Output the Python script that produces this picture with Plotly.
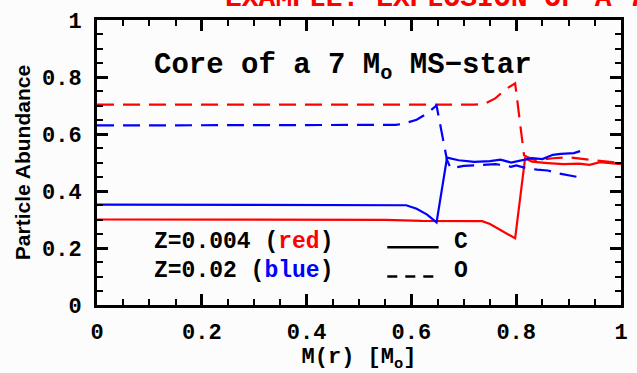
import plotly.graph_objects as go

# Mass coordinate M(r) in solar masses and particle abundances (C and O)
# for two metallicities: Z=0.004 (red) and Z=0.02 (blue).
x_c_z004 = [0.0, 0.55, 0.62, 0.735, 0.75, 0.77, 0.798, 0.817, 0.83, 0.86, 0.89,
            0.92, 0.94, 0.96, 0.98, 1.0]
c_z004 = [0.300, 0.299, 0.295, 0.294, 0.284, 0.264, 0.234, 0.515, 0.503, 0.498,
          0.494, 0.496, 0.492, 0.501, 0.497, 0.494]

x_o_z004 = [0.0, 0.72, 0.74, 0.76, 0.78, 0.798, 0.815, 0.83, 0.84, 0.87, 0.9,
            0.93, 0.96, 0.98, 1.0]
o_z004 = [0.703, 0.703, 0.706, 0.725, 0.757, 0.778, 0.525, 0.512, 0.508, 0.515,
          0.518, 0.512, 0.506, 0.503, 0.498]

x_c_z002 = [0.0, 0.58, 0.59, 0.61, 0.63, 0.648, 0.668, 0.69, 0.72, 0.75, 0.77,
            0.79, 0.81, 0.83, 0.85, 0.86, 0.87, 0.885, 0.9, 0.91, 0.922]
c_z002 = [0.352, 0.352, 0.350, 0.338, 0.317, 0.290, 0.517, 0.508, 0.502, 0.505,
          0.510, 0.500, 0.508, 0.515, 0.512, 0.520, 0.527, 0.530, 0.532, 0.533, 0.540]

x_o_z002 = [0.0, 0.57, 0.585, 0.61, 0.63, 0.648, 0.668, 0.675, 0.70, 0.73, 0.76,
            0.78, 0.79, 0.80, 0.82, 0.84, 0.86, 0.88, 0.90, 0.915, 0.922]
o_z002 = [0.630, 0.632, 0.636, 0.650, 0.672, 0.700, 0.508, 0.480, 0.488, 0.492,
          0.494, 0.490, 0.485, 0.490, 0.480, 0.475, 0.472, 0.462, 0.455, 0.450, 0.440]

x_ticks = [0, 0.2, 0.4, 0.6, 0.8, 1]
x_tick_text = ["0", "0.2", "0.4", "0.6", "0.8", "1"]
y_ticks = [0, 0.2, 0.4, 0.6, 0.8, 1]
y_tick_text = ["0", "0.2", "0.4", "0.6", "0.8", "1"]

RED = "#ff0000"
BLUE = "#0000ff"
MONO = "Liberation Mono"
SANS = "Liberation Sans"
DASH = "17px,9px"

fig = go.Figure()
fig.add_trace(go.Scatter(x=x_c_z004, y=c_z004, mode="lines",
                         line=dict(color=RED, width=2.2)))
fig.add_trace(go.Scatter(x=x_o_z004, y=o_z004, mode="lines",
                         line=dict(color=RED, width=2.2, dash=DASH)))
fig.add_trace(go.Scatter(x=x_c_z002, y=c_z002, mode="lines",
                         line=dict(color=BLUE, width=2.2)))
fig.add_trace(go.Scatter(x=x_o_z002, y=o_z002, mode="lines",
                         line=dict(color=BLUE, width=2.2, dash=DASH)))

axis_common = dict(
    range=[0, 1], ticks="inside", ticklen=11, tickwidth=2.5, tickcolor="black",
    showline=True, linewidth=3, linecolor="black", mirror="allticks",
    showgrid=False, zeroline=False,
    minor=dict(dtick=0.05, ticks="inside", ticklen=6, tickwidth=2, tickcolor="black"),
    tickfont=dict(family=MONO, size=22, color="black", weight="bold"),
)
fig.update_xaxes(**axis_common, tickvals=x_ticks, ticktext=x_tick_text,
                 ticklabelstandoff=5,
                 title=dict(text="M(r) [M<sub>o</sub>]", standoff=2,
                            font=dict(family=MONO, size=22, color="black", weight="bold")))
fig.update_yaxes(**axis_common, tickvals=y_ticks, ticktext=y_tick_text,
                 ticklabelstandoff=8,
                 title=dict(text="Particle Abundance", standoff=6,
                            font=dict(family=SANS, size=21, color="black", weight="bold")))

# Text labels inside the frame
txt_font = dict(family=MONO, size=29, color="black", weight="bold")
leg_font = dict(family=MONO, size=23, color="black", weight="bold")
fig.add_annotation(x=0.105, y=0.836, xref="x", yref="y", xanchor="left", yanchor="middle",
                   text="Core of a 7 M<sub>o</sub> MS\u2212star", showarrow=False, font=txt_font)
fig.add_annotation(x=0.104, y=0.221, xref="x", yref="y", xanchor="left", yanchor="middle",
                   text="Z=0.004 (<span style='color:#ff0000'>red</span>)",
                   showarrow=False, font=leg_font)
fig.add_annotation(x=0.104, y=0.119, xref="x", yref="y", xanchor="left", yanchor="middle",
                   text="Z=0.02 (<span style='color:#0000ff'>blue</span>)",
                   showarrow=False, font=leg_font)
fig.add_annotation(x=0.678, y=0.221, xref="x", yref="y", xanchor="left", yanchor="middle",
                   text="C", showarrow=False, font=leg_font)
fig.add_annotation(x=0.678, y=0.119, xref="x", yref="y", xanchor="left", yanchor="middle",
                   text="O", showarrow=False, font=leg_font)
fig.add_shape(type="line", xref="x", yref="y", x0=0.554, x1=0.652, y0=0.203, y1=0.203,
              line=dict(color="black", width=2.5))
fig.add_shape(type="line", xref="x", yref="y", x0=0.554, x1=0.652, y0=0.100, y1=0.100,
              line=dict(color="black", width=2.5, dash="10px,8px"))

# Heading, partly running off the top edge of the page
fig.add_annotation(x=0.241, y=1.075, xref="paper", yref="paper", xanchor="left",
                   yanchor="middle", text="EXAMPLE: EXPLOSION OF A 7 M STAR",
                   showarrow=False,
                   font=dict(family=MONO, size=28, color=RED, weight="bold"))

fig.update_layout(
    width=637, height=373, showlegend=False,
    margin=dict(l=97, r=9, t=20, b=55),
    paper_bgcolor="#fcfcfc", plot_bgcolor="#fcfcfc",
)

fig.write_html("out.html")
